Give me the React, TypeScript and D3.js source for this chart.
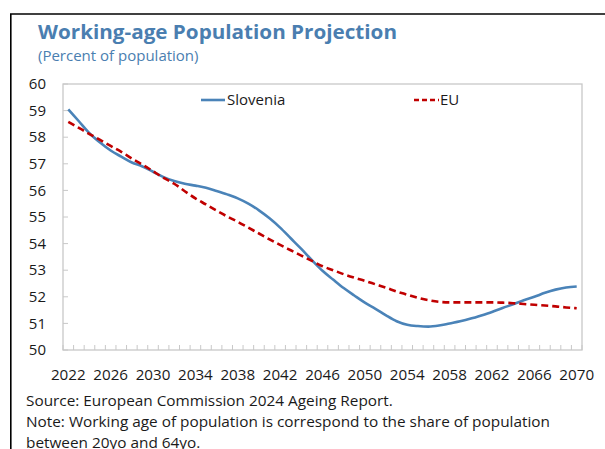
import React from "react";
import * as d3 from "d3";

const years: number[] = [
  2022, 2023, 2024, 2025, 2026, 2027, 2028, 2029, 2030, 2031, 2032, 2033, 2034, 2035, 2036, 2037,
  2038, 2039, 2040, 2041, 2042, 2043, 2044, 2045, 2046, 2047, 2048, 2049, 2050, 2051, 2052, 2053,
  2054, 2055, 2056, 2057, 2058, 2059, 2060, 2061, 2062, 2063, 2064, 2065, 2066, 2067, 2068, 2069, 2070,
];

const slovenia: number[] = [
  59.05, 58.6, 58.15, 57.8, 57.5, 57.27, 57.05, 56.9, 56.7, 56.5, 56.35, 56.25, 56.18, 56.1, 55.98, 55.85,
  55.7, 55.5, 55.25, 54.95, 54.6, 54.2, 53.8, 53.38, 52.98, 52.65, 52.33, 52.05, 51.78, 51.55, 51.3, 51.08,
  50.95, 50.9, 50.88, 50.92, 51.0, 51.08, 51.18, 51.3, 51.43, 51.58, 51.72, 51.87, 52.0, 52.15, 52.27, 52.35, 52.39,
];

const eu: number[] = [
  58.58, 58.35, 58.12, 57.9, 57.67, 57.45, 57.2, 56.97, 56.72, 56.47, 56.25, 55.97, 55.7, 55.47, 55.24, 55.02,
  54.82, 54.6, 54.38, 54.16, 53.95, 53.75, 53.55, 53.35, 53.15, 53.0, 52.85, 52.72, 52.6, 52.47, 52.34, 52.2,
  52.08, 51.96, 51.87, 51.81, 51.79, 51.79, 51.79, 51.79, 51.79, 51.78, 51.76, 51.73, 51.7, 51.67, 51.64, 51.6, 51.57,
];

const yTicks: number[] = [50, 51, 52, 53, 54, 55, 56, 57, 58, 59, 60];
const xLabelYears: number[] = [2022, 2026, 2030, 2034, 2038, 2042, 2046, 2050, 2054, 2058, 2062, 2066, 2070];

const seriesNames: string[] = ["Slovenia", "EU"];
const title = "Working-age Population Projection";
const subtitle = "(Percent of population)";
const footnotes: string[] = [
  "Source: European Commission 2024 Ageing Report.",
  "Note: Working age of population is correspond to the share of population",
  "between 20yo and 64yo.",
];

const W = 605;
const H = 449;
const plot = { left: 63, right: 582, top: 84, bottom: 350 };
const FONT = "'Open Sans', 'Noto Sans', sans-serif";
const BLUE = "#4a83b8";
const RED = "#c00000";
const TITLE_BLUE = "#4a7eb0";
const TEXT = "#1a1a1a";

export default function App() {
  const x = d3
    .scaleBand<number>()
    .domain(years)
    .range([plot.left, plot.right])
    .paddingInner(0)
    .paddingOuter(0);
  const cx = (yr: number) => (x(yr) as number) + x.bandwidth() / 2;
  const y = d3.scaleLinear().domain([50, 60]).range([plot.bottom, plot.top]);

  const line = d3
    .line<number>()
    .x((_, i) => cx(years[i]))
    .y((d) => y(d))
    .curve(d3.curveMonotoneX);

  const boundaries = d3.range(years.length + 1).map((i) => plot.left + i * x.bandwidth());

  return (
    <div style={{ position: "absolute", left: 0, top: 0 }}>
      <svg width={W} height={H} style={{ display: "block", background: "#fff" }} fontFamily={FONT}>
        <rect x={0} y={0} width={W} height={H} fill="#fff" />
        {/* outer frame */}
        <line x1={10} y1={14} x2={W} y2={14} stroke="#000" strokeWidth={1.6} />
        <line x1={10.8} y1={14} x2={10.8} y2={H} stroke="#000" strokeWidth={1.6} />

        <text x={38} y={38.5} fontSize={20} fontWeight={700} fill={TITLE_BLUE} textLength={359} lengthAdjust="spacingAndGlyphs">
          {title}
        </text>
        <text x={38} y={61} fontSize={15} fill={TITLE_BLUE}>
          {subtitle}
        </text>

        {/* plot frame */}
        <rect
          x={plot.left}
          y={plot.top}
          width={plot.right - plot.left}
          height={plot.bottom - plot.top}
          fill="none"
          stroke="#c8c8c8"
          strokeWidth={1.3}
        />

        {/* y ticks */}
        {yTicks.map((t) => (
          <g key={t}>
            <line x1={plot.left} x2={plot.left + 5} y1={y(t)} y2={y(t)} stroke="#c8c8c8" strokeWidth={1} />
            <text x={46} y={y(t)} dy="0.35em" textAnchor="end" fontSize={15} fill={TEXT}>
              {t}
            </text>
          </g>
        ))}

        {/* x ticks */}
        {boundaries.map((bx, i) => (
          <line key={i} x1={bx} x2={bx} y1={plot.bottom} y2={plot.bottom - 5} stroke="#c8c8c8" strokeWidth={1} />
        ))}
        {xLabelYears.map((yr) => (
          <text key={yr} x={cx(yr)} y={380} textAnchor="middle" fontSize={15.2} fill={TEXT}>
            {yr}
          </text>
        ))}

        {/* series */}
        <path d={line(slovenia) || ""} fill="none" stroke={BLUE} strokeWidth={2.6} />
        <path d={line(eu) || ""} fill="none" stroke={RED} strokeWidth={2.6} strokeDasharray="7,4" />

        {/* legend */}
        <line x1={201} x2={225} y1={100} y2={100} stroke={BLUE} strokeWidth={2.6} />
        <text x={227} y={100} dy="0.35em" fontSize={15} fill={TEXT}>
          {seriesNames[0]}
        </text>
        <line x1={414} x2={439} y1={100} y2={100} stroke={RED} strokeWidth={2.6} strokeDasharray="5,3" />
        <text x={440} y={100} dy="0.35em" fontSize={15} fill={TEXT}>
          {seriesNames[1]}
        </text>

        {/* footnotes */}
        {footnotes.map((f, i) => (
          <text key={i} x={26} y={405.5 + i * 21} fontSize={15.35} fill={TEXT}>
            {f}
          </text>
        ))}
      </svg>
    </div>
  );
}
